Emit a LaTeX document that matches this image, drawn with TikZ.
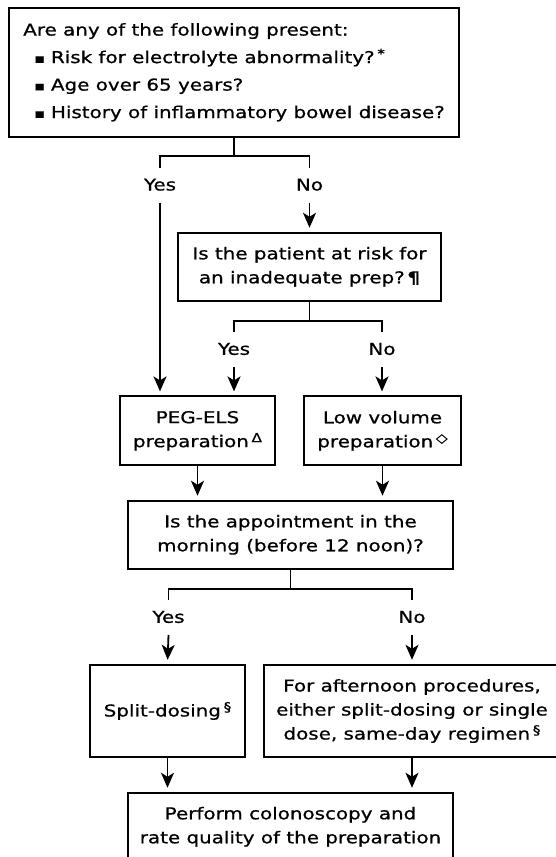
\documentclass[tikz,border=0pt]{standalone}
\usepackage{fontspec}
\setmainfont[FakeStretch=1.22, FakeBold=0.8]{DejaVu Sans}
\usetikzlibrary{arrows.meta}

\newcommand{\footmark}[1]{\,\raisebox{5pt}{\fontsize{12.5}{12.5}\selectfont #1}}

\begin{document}
\begin{tikzpicture}[x=1pt, y=-1pt, line width=1.8pt,
    box/.style={draw, rectangle, inner sep=0pt, align=center, font=\fontsize{16.3}{24}\selectfont},
    ans/.style={inner sep=0pt, outer ysep=12pt, text height=11pt, text depth=0pt, font=\fontsize{16.3}{18}\selectfont},
    arr/.style={-{Stealth[length=15pt, width=13pt, inset=4pt]}, shorten >=4pt}]
    \clip (0,0) rectangle (556,857);

    \node[box, align=left, minimum width=450pt, minimum height=128.7pt, font=\fontsize{16.3}{27.5}\selectfont] (pres) at (234,72.3)
        {Are any of the following present:\\
         \hspace*{11pt}{\fontsize{13}{13}\selectfont ▪}\hspace{6pt}Risk for electrolyte abnormality?\footmark{*}\\
         \hspace*{11pt}{\fontsize{13}{13}\selectfont ▪}\hspace{6pt}Age over 65 years?\\
         \hspace*{11pt}{\fontsize{13}{13}\selectfont ▪}\hspace{6pt}History of inflammatory bowel disease?};
    \node[box, minimum width=263pt, minimum height=68.3pt] (risk) at (309.5,266.8)
        {Is the patient at risk for\\an inadequate prep?\,\textbf{¶}};
    \node[box, minimum width=155pt, minimum height=69pt] (peg) at (197.5,430.8)
        {PEG-ELS\\preparation\footmark{Δ}};
    \node[box, minimum width=157pt, minimum height=69pt] (lowvol) at (382.5,430.8)
        {Low volume\\preparation\footmark{◇}};
    \node[box, minimum width=325pt, minimum height=68.3pt] (morning) at (290.5,534.8)
        {Is the appointment in the\\morning (before 12 noon)?};
    \node[box, minimum width=155pt, minimum height=92.6pt] (split) at (167.5,711)
        {Split-dosing\footmark{§}};
    \node[box, minimum width=296pt, minimum height=92.6pt] (aftn) at (412,711)
        {For afternoon procedures,\\either split-dosing or single\\dose, same-day regimen\footmark{§}};
    \node[box, minimum width=325pt, minimum height=68.3pt] (colo) at (290.5,826.8)
        {Perform colonoscopy and\\rate quality of the preparation};

    \node[ans] (yes1) at (160,185) {Yes};
    \node[ans] (no1) at (309.5,185) {No};
    \node[ans] (yes2) at (234,349.3) {Yes};
    \node[ans] (no2) at (382,349.3) {No};
    \node[ans] (yes3) at (168.5,617.3) {Yes};
    \node[ans] (no3) at (412,617.3) {No};

    \coordinate (fork1) at (234,156);
    \coordinate (fork2) at (309.5,320.7);
    \coordinate (fork3) at (290.5,589);

    % first question
    \draw (pres.south) -- (fork1);
    \draw (yes1.north) |- (fork1) -| (no1.north);
    \draw[arr] (yes1.south) -- (yes1.south |- peg.north);
    \draw[arr] (no1.south) -- (no1.south |- risk.north);

    % inadequate prep
    \draw (risk.south) -- (fork2);
    \draw (yes2.north) |- (fork2) -| (no2.north);
    \draw[arr] (yes2.south) -- (yes2.south |- peg.north);
    \draw[arr] (no2.south) -- (no2.south |- lowvol.north);

    \draw[arr] (peg.south) -- (peg.south |- morning.north);
    \draw[arr] (lowvol.south) -- (lowvol.south |- morning.north);

    % morning or afternoon
    \draw (morning.south) -- (fork3);
    \draw (yes3.north) |- (fork3) -| (no3.north);
    \draw[arr] (yes3.south) -- (split.north);
    \draw[arr] (no3.south) -- (aftn.north);

    \draw[arr] (split.south) -- (split.south |- colo.north);
    \draw[arr] (aftn.south) -- (aftn.south |- colo.north);
\end{tikzpicture}
\end{document}
